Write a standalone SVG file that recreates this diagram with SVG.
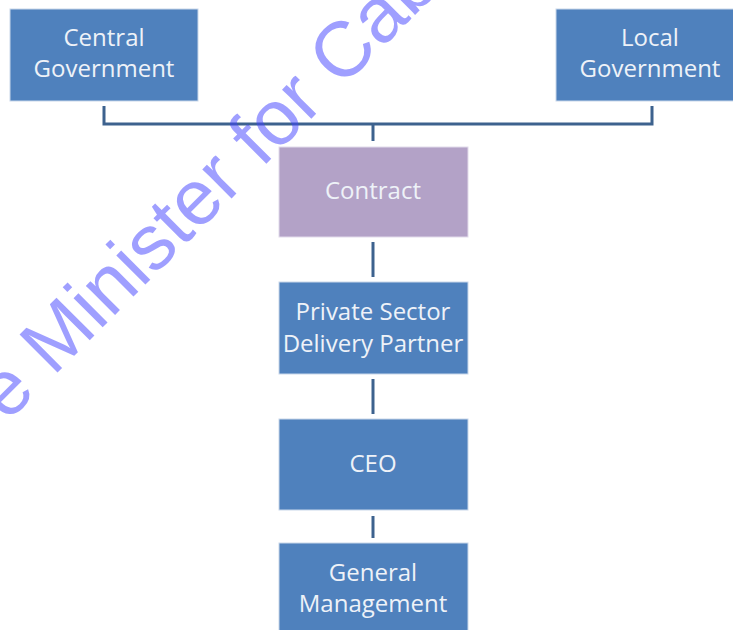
<svg xmlns="http://www.w3.org/2000/svg" width="733" height="630" viewBox="0 0 733 630">
<style>
.box{fill:#4f81bd;stroke:#c9d7ea;stroke-width:1}
.purple{fill:#b3a2c7;stroke:#e2dbeb;stroke-width:1}
.lbl{font-family:"Open Sans","Liberation Sans",sans-serif;font-size:24px;fill:#eef2f8;text-anchor:middle}
.conn{fill:none;stroke:#3d628e;stroke-width:3}
.wm{font-family:"Liberation Sans",Arial,sans-serif;font-size:78px;fill:#4040ff;fill-opacity:0.5}
</style>
<rect width="733" height="630" fill="#ffffff"/>
<g id="connectors">
<path class="conn" d="M104 106 V124 H652 V106"/>
<path class="conn" d="M373 124 V141"/>
<path class="conn" d="M373 242 V277"/>
<path class="conn" d="M373 379 V414"/>
<path class="conn" d="M373 516 V538"/>
</g>
<g id="central">
<rect class="box" x="10" y="9" width="188" height="92"/>
<text class="lbl" x="104" y="46">Central</text>
<text class="lbl" x="104" y="77">Government</text>
</g>
<g id="local">
<rect class="box" x="556" y="9" width="188" height="92"/>
<text class="lbl" x="650" y="46">Local</text>
<text class="lbl" x="650" y="77">Government</text>
</g>
<g id="contract">
<rect class="purple" x="279" y="147" width="189" height="90"/>
<text class="lbl" x="373" y="199">Contract</text>
</g>
<g id="partner">
<rect class="box" x="279" y="282" width="189" height="92"/>
<text class="lbl" x="373" y="320">Private Sector</text>
<text class="lbl" x="373" y="352">Delivery Partner</text>
</g>
<g id="ceo">
<rect class="box" x="279" y="419" width="189" height="91"/>
<text class="lbl" x="373" y="472">CEO</text>
</g>
<g id="management">
<rect class="box" x="279" y="543" width="189" height="91"/>
<text class="lbl" x="373" y="581">General</text>
<text class="lbl" x="373" y="612">Management</text>
</g>
<text class="wm" transform="translate(7 423) rotate(-45)">e Minister for Cab</text>
</svg>
